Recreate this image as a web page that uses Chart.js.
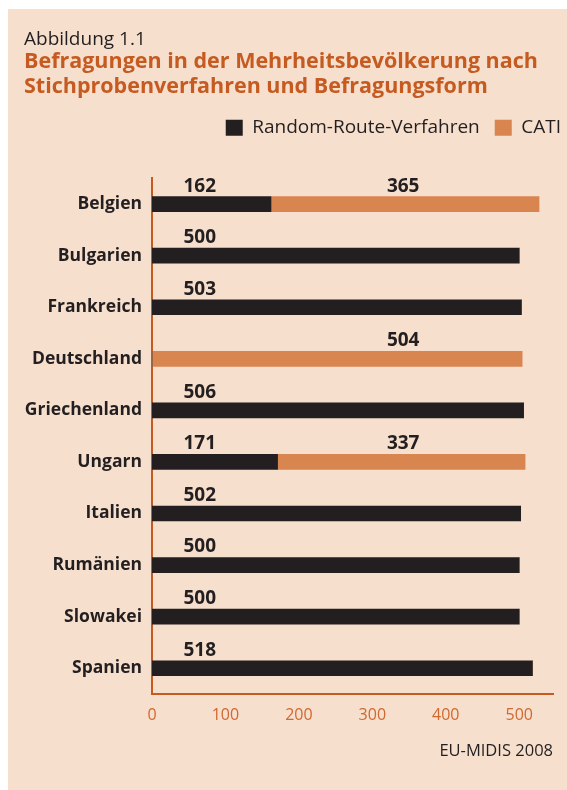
<!DOCTYPE html>
<html>
<head>
<meta charset="utf-8">
<script src="https://cdn.jsdelivr.net/npm/chart.js@4"></script>
<style>
  body { margin: 0; background: #ffffff; }
  #panel { position: absolute; left: 8px; top: 9px; width: 559px; height: 781px; background: #f6dfcd; }
</style>
</head>
<body>
<div id="panel"><canvas id="myChart" width="559" height="781"></canvas></div>
<script>
// Daten
const laender = ['Belgien', 'Bulgarien', 'Frankreich', 'Deutschland', 'Griechenland',
                 'Ungarn', 'Italien', 'Rumänien', 'Slowakei', 'Spanien'];
const randomRoute = [162, 500, 503, 0, 506, 171, 502, 500, 500, 518];
const cati = [365, 0, 0, 504, 0, 337, 0, 0, 0, 0];
const xTicks = [0, 100, 200, 300, 400, 500];

const schrift = "'Open Sans', 'DejaVu Sans', sans-serif";
const dunkel = '#231f20';
const orange = '#c65b21';

// Zahlen ueber den Balken (feste Spalten wie im Original)
const labelPlugin = {
    id: 'werte',
    afterLayout(chart) {
        // Legende etwas weiter nach rechts, bis fast an den Rand
        chart.legend.left += 23;
        chart.legend.right += 23;
    },
    afterDatasetsDraw(chart) {
        const ctx = chart.ctx;
        const x = chart.scales.x;
        const spalten = [65, 342];
        ctx.save();
        ctx.font = 'bold 19px ' + schrift;
        ctx.fillStyle = dunkel;
        ctx.textAlign = 'center';
        ctx.textBaseline = 'middle';
        chart.data.datasets.forEach(function (ds, i) {
            const meta = chart.getDatasetMeta(i);
            ds.data.forEach(function (v, j) {
                if (!v) return;
                ctx.fillText(String(v), x.getPixelForValue(spalten[i]), meta.data[j].y - 18);
            });
        });
        ctx.restore();
    }
};

const data = {
    labels: laender,
    datasets: [
        {
            label: 'Random-Route-Verfahren',
            data: randomRoute,
            backgroundColor: dunkel,
            barThickness: 15
        }, {
            label: 'CATI',
            data: cati,
            backgroundColor: '#d88550',
            barThickness: 15
        }]
};

const config = {
    type: 'bar',
    data: data,
    plugins: [labelPlugin],
    options: {
        indexAxis: 'y',
        responsive: false,
        animation: false,
        layout: { padding: { left: 16, right: 14, top: 0, bottom: 29 } },
        plugins: {
            title: {
                display: true,
                text: 'Abbildung 1.1',
                align: 'start',
                color: dunkel,
                font: { family: schrift, size: 19, weight: 'normal', lineHeight: 1.0 },
                padding: { top: 21, bottom: 0 }
            },
            subtitle: {
                display: true,
                text: ['Befragungen in der Mehrheitsbevölkerung nach',
                       'Stichprobenverfahren und Befragungsform'],
                align: 'start',
                color: orange,
                font: { family: schrift, size: 21.5, weight: 'bold', lineHeight: 1.17 },
                padding: { top: 0, bottom: 4 }
            },
            legend: {
                position: 'top',
                align: 'end',
                labels: {
                    boxWidth: 17,
                    boxHeight: 16,
                    color: dunkel,
                    font: { family: schrift, size: 19 },
                    padding: 15
                }
            },
            tooltip: { enabled: false }
        },
        scales: {
            x: {
                stacked: true,
                min: 0,
                max: 546,
                afterBuildTicks: function (axis) {
                    axis.ticks = xTicks.map(function (v) { return { value: v }; });
                },
                grid: { display: false, drawTicks: false },
                border: { color: orange, width: 2 },
                ticks: {
                    color: '#d0682f',
                    font: { family: schrift, size: 16 },
                    padding: 11.5
                },
                title: {
                    display: true,
                    text: 'EU-MIDIS 2008',
                    align: 'end',
                    color: dunkel,
                    font: { family: schrift, size: 16.5 },
                    padding: { top: 5, bottom: 0 }
                }
            },
            // leerer Abstand zwischen Legende und Diagramm
            abstand: {
                type: 'linear',
                position: 'top',
                display: true,
                grid: { display: false, drawTicks: false },
                border: { display: false },
                ticks: { display: false },
                afterFit: function (scale) {
                    scale.height = 31;
                }
            },
            y: {
                stacked: true,
                grid: { display: false, drawTicks: false },
                border: { color: orange, width: 2 },
                ticks: {
                    color: dunkel,
                    font: { family: schrift, size: 17.5, weight: 'bold' },
                    padding: 10
                },
                afterFit: function (scale) {
                    scale.width = 128;
                }
            }
        }
    }
};

new Chart(document.getElementById('myChart'), config);
</script>
</body>
</html>
